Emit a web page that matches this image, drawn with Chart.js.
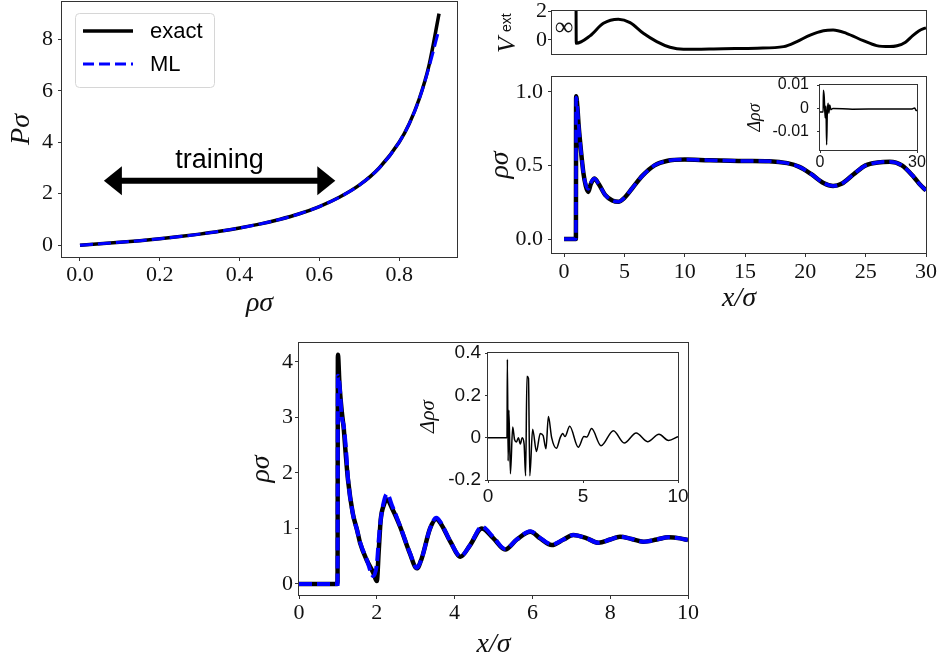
<!DOCTYPE html>
<html>
<head>
<meta charset="utf-8">
<script src="https://cdn.jsdelivr.net/npm/chart.js@4.4.1/dist/chart.umd.min.js"></script>
<style>
    body { margin: 0; background: #fff; }
    #fig { position: relative; width: 939px; height: 662px; overflow: hidden; background: #fff; }
    canvas { position: absolute; }
</style>
</head>
<body>
<div id="fig">
    <canvas id="pressure"></canvas>
    <canvas id="potential"></canvas>
    <canvas id="profile"></canvas>
    <canvas id="profile-diff"></canvas>
    <canvas id="wall"></canvas>
    <canvas id="wall-diff"></canvas>
</div>
<script>
// * Equation of state, external potential and density profiles (exact vs ML)

// pressure vs density
const pRho = [0, 0.05, 0.1, 0.15, 0.2, 0.25, 0.3, 0.35, 0.4, 0.45, 0.5, 0.55, 0.6, 0.65, 0.7, 0.75, 0.8, 0.825, 0.85, 0.875, 0.9]
const pExact = [0, 0.053, 0.111, 0.176, 0.25, 0.333, 0.429, 0.538, 0.667, 0.818, 1.0, 1.22, 1.5, 1.86, 2.33, 3.0, 4.0, 4.71, 5.67, 7.0, 9.0]
const pML = [0, 0.053, 0.111, 0.176, 0.25, 0.333, 0.429, 0.538, 0.667, 0.818, 1.0, 1.22, 1.5, 1.86, 2.33, 3.0, 4.0, 4.71, 5.66, 6.92, 8.4]
const trainingRange = [0.06, 0.64]
const trainingLevel = 2.5

// external potential
const vX = [0.99, 1.01, 2.15, 3.26, 4.5, 5.47, 6.57, 7.68, 8.78, 9.9, 13.2, 16, 18.2, 19.3, 20.4, 21.5, 22.3, 23.4, 24.8, 25.9, 27, 27.6, 28.3, 28.9, 29.4, 29.8, 30]
const vExt = [3, -0.23, 0.28, 1.15, 1.43, 1.2, 0.46, -0.11, -0.5, -0.64, -0.6, -0.57, -0.46, -0.11, 0.34, 0.64, 0.69, 0.46, -0.05, -0.39, -0.46, -0.4, -0.15, 0.3, 0.62, 0.78, 0.83]

// density profile in that potential
const cX = [0, 0.98, 1.0, 1.1, 1.2, 1.4, 1.6, 1.8, 2.0, 2.2, 2.5, 2.9, 3.4, 4.0, 4.5, 5.0, 5.7, 6.5, 7.5, 8.5, 10, 12, 15, 17, 18.5, 19.5, 20.5, 21.5, 22.3, 23, 24, 25, 26, 27, 28, 29, 29.5, 30]
const cExact = [0, 0, 0.97, 0.9, 0.78, 0.6, 0.45, 0.36, 0.32, 0.37, 0.41, 0.37, 0.3, 0.262, 0.253, 0.28, 0.35, 0.43, 0.5, 0.53, 0.54, 0.535, 0.53, 0.528, 0.515, 0.49, 0.44, 0.38, 0.36, 0.375, 0.44, 0.5, 0.52, 0.525, 0.5, 0.42, 0.37, 0.33]
const cML = [0, 0, 0.96, 0.9, 0.78, 0.6, 0.45, 0.37, 0.34, 0.38, 0.41, 0.37, 0.3, 0.262, 0.253, 0.28, 0.35, 0.43, 0.5, 0.53, 0.54, 0.535, 0.53, 0.528, 0.515, 0.49, 0.44, 0.38, 0.36, 0.375, 0.44, 0.5, 0.52, 0.525, 0.5, 0.42, 0.37, 0.33]
const cDiffX = [0, 0.98, 1.05, 1.3, 1.6, 1.85, 2.05, 2.25, 2.5, 2.75, 3.0, 3.4, 4, 10, 20, 28.5, 29.3, 29.7, 30]
const cDiff = [-0.0015, -0.0015, 0.0078, 0.005, -0.004, 0.001, -0.0155, -0.002, 0.0022, -0.002, 0.0015, -0.0005, 0, -0.0003, -0.0002, -0.0002, 0.0002, -0.0008, -0.0009]

// density at a hard wall
const dX = [0, 0.99, 1.0, 1.04, 1.1, 1.15, 1.2, 1.26, 1.38, 1.5, 1.57, 1.74, 1.91, 2.0, 2.05, 2.1, 2.18, 2.26, 2.4, 2.6, 2.85, 3.03, 3.15, 3.37, 3.53, 3.65, 3.9, 4.15, 4.4, 4.7, 5.0, 5.3, 5.6, 5.95, 6.2, 6.5, 6.8, 7.05, 7.4, 7.7, 8.0, 8.25, 8.55, 8.85, 9.2, 9.5, 9.8, 10]
const dExact = [0, 0, 4.13, 3.6, 3.1, 2.8, 2.35, 1.87, 1.28, 0.95, 0.74, 0.43, 0.2, 0.05, 0.6, 1.15, 1.42, 1.52, 1.35, 1.03, 0.55, 0.28, 0.45, 1.0, 1.17, 1.08, 0.75, 0.49, 0.7, 1.0, 0.82, 0.62, 0.8, 0.94, 0.82, 0.7, 0.8, 0.88, 0.82, 0.74, 0.8, 0.85, 0.81, 0.76, 0.8, 0.84, 0.82, 0.79]
const dML = [0, 0, 3.75, 3.6, 3.0, 2.85, 2.5, 1.9, 1.28, 0.95, 0.75, 0.44, 0.14, 0.35, 0.8, 1.15, 1.48, 1.62, 1.4, 1.04, 0.56, 0.29, 0.45, 1.0, 1.19, 1.1, 0.75, 0.5, 0.7, 1.03, 0.84, 0.63, 0.8, 0.95, 0.83, 0.71, 0.8, 0.88, 0.82, 0.74, 0.8, 0.85, 0.81, 0.76, 0.8, 0.84, 0.82, 0.79]
const dDiffX = [0, 1.0, 1.02, 1.06, 1.1, 1.18, 1.3, 1.4, 1.5, 1.6, 1.7, 1.8, 1.9, 1.98, 2.05, 2.13, 2.2, 2.35, 2.55, 2.75, 2.9, 3.05, 3.18, 3.35, 3.6, 3.8, 3.93, 4.05, 4.3, 4.75, 5.05, 5.2, 5.45, 5.95, 6.6, 7.17, 7.8, 8.4, 9.0, 9.5, 10]
const dDiff = [0, 0, 0.37, -0.11, 0.13, -0.17, 0.05, -0.01, -0.02, 0.0, -0.03, 0.0, -0.03, -0.18, 0.29, 0.28, -0.18, 0.04, -0.065, 0.02, 0.01, -0.052, 0.10, 0.0, -0.05, 0.0, 0.02, 0.005, 0.054, -0.045, 0.005, 0.003, 0.043, -0.038, 0.033, -0.025, 0.022, -0.019, 0.016, -0.013, 0.005]

// ticks
const pXTicks = [0, 0.2, 0.4, 0.6, 0.8]
const pXLabels = ['0.0', '0.2', '0.4', '0.6', '0.8']
const pYTicks = [0, 2, 4, 6, 8]
const pYLabels = ['0', '2', '4', '6', '8']
const vYTicks = [0, 2]
const vYLabels = ['0', '2']
const cXTicks = [0, 5, 10, 15, 20, 25, 30]
const cXLabels = ['0', '5', '10', '15', '20', '25', '30']
const cYTicks = [0, 0.5, 1.0]
const cYLabels = ['0.0', '0.5', '1.0']
const cDiffXTicks = [0, 30]
const cDiffXLabels = ['0', '30']
const cDiffYTicks = [-0.01, 0, 0.01]
const cDiffYLabels = ['-0.01', '0', '0.01']
const dXTicks = [0, 2, 4, 6, 8, 10]
const dXLabels = ['0', '2', '4', '6', '8', '10']
const dYTicks = [0, 1, 2, 3, 4]
const dYLabels = ['0', '1', '2', '3', '4']
const dDiffXTicks = [0, 5, 10]
const dDiffXLabels = ['0', '5', '10']
const dDiffYTicks = [-0.2, 0, 0.2, 0.4]
const dDiffYLabels = ['-0.2', '0', '0.2', '0.4']

const serif = '"Liberation Serif", "DejaVu Serif", serif'
const sans = '"Liberation Sans", Arial, sans-serif'
const frameColor = '#333'

// put a canvas so its chart area lands on the given page box
function place(id, area, yw, xh) {
    const pad = 20
    const c = document.getElementById(id)
    const w = yw + (area.r - area.l) + pad
    const h = pad + (area.b - area.t) + xh
    c.width = w
    c.height = h
    c.style.left = area.l - yw + 'px'
    c.style.top = area.t - pad + 'px'
    c.style.width = w + 'px'
    c.style.height = h + 'px'
    return c
}

function points(xs, ys) {
    return xs.map((x, i) => ({ x: x, y: ys[i] }))
}

function axis(o) {
    const hasTicks = o.ticks.length > 0
    return {
        type: 'linear',
        min: o.min,
        max: o.max,
        afterBuildTicks: (s) => { s.ticks = o.ticks.map((v) => ({ value: v })) },
        afterFit: (s) => {
            if (o.width !== undefined) s.width = o.width
            if (o.height !== undefined) s.height = o.height
        },
        grid: { display: hasTicks, drawOnChartArea: false, drawTicks: true, tickLength: o.tl || 4, color: frameColor, lineWidth: 1 },
        border: { display: false },
        ticks: {
            display: hasTicks,
            autoSkip: false,
            maxRotation: 0,
            color: '#111',
            padding: o.pad,
            font: { family: o.family || serif, size: o.size || 22, lineHeight: 1 },
            callback: (v, i) => o.labels[i]
        },
        title: o.title
            ? { display: true, text: o.title, color: '#111', padding: { top: o.tpad, bottom: o.tpad },
                font: { family: serif, style: 'italic', size: o.tsize || 28, lineHeight: 1 } }
            : { display: false }
    }
}

function line(data, color, width, dashed, order) {
    return {
        data: data,
        borderColor: color,
        borderWidth: width,
        borderDash: dashed ? [13, 5] : [],
        pointRadius: 0,
        fill: false,
        cubicInterpolationMode: 'monotone',
        order: order
    }
}

// white inset background and the box around every axes
const frame = {
    id: 'frame',
    beforeDraw(chart, args, opts) {
        if (!opts.fill) return
        const a = chart.chartArea
        chart.ctx.save()
        chart.ctx.fillStyle = '#fff'
        chart.ctx.fillRect(a.left, a.top, a.width, a.height)
        chart.ctx.restore()
    },
    afterDraw(chart) {
        const a = chart.chartArea
        const ctx = chart.ctx
        ctx.save()
        ctx.strokeStyle = frameColor
        ctx.lineWidth = 1
        ctx.strokeRect(a.left - 0.5, a.top - 0.5, a.width + 1, a.height + 1)
        ctx.restore()
    }
}

function baseOptions(scales, fill) {
    return {
        responsive: false,
        animation: false,
        events: [],
        layout: { padding: { top: 20, right: 20, left: 0, bottom: 0 } },
        scales: scales,
        plugins: { legend: { display: false }, tooltip: { enabled: false }, frame: { fill: fill } }
    }
}

// legend, arrow and "training" label
const pressureNotes = {
    id: 'pressureNotes',
    afterDraw(chart) {
        const ctx = chart.ctx
        const a = chart.chartArea
        const xs = chart.scales.x
        const ys = chart.scales.y
        ctx.save()

        // double arrow
        const yA = ys.getPixelForValue(trainingLevel)
        const x0 = xs.getPixelForValue(trainingRange[0])
        const x1 = xs.getPixelForValue(trainingRange[1])
        const head = 18
        ctx.fillStyle = '#000'
        ctx.strokeStyle = '#000'
        ctx.lineWidth = 6
        ctx.beginPath()
        ctx.moveTo(x0 + head - 1, yA)
        ctx.lineTo(x1 - head + 1, yA)
        ctx.stroke()
        ctx.beginPath()
        ctx.moveTo(x0, yA)
        ctx.lineTo(x0 + head, yA - 14.5)
        ctx.lineTo(x0 + head, yA + 14.5)
        ctx.closePath()
        ctx.fill()
        ctx.beginPath()
        ctx.moveTo(x1, yA)
        ctx.lineTo(x1 - head, yA - 14.5)
        ctx.lineTo(x1 - head, yA + 14.5)
        ctx.closePath()
        ctx.fill()

        ctx.font = '27px ' + sans
        ctx.textAlign = 'center'
        ctx.textBaseline = 'alphabetic'
        ctx.fillText('training', (x0 + x1) / 2, yA - 13)

        // legend box
        const lx = a.left + 13
        const ly = a.top + 11
        ctx.beginPath()
        ctx.roundRect(lx + 0.5, ly + 0.5, 139, 74, 4)
        ctx.fillStyle = 'rgba(255,255,255,0.85)'
        ctx.fill()
        ctx.strokeStyle = '#d6d6d6'
        ctx.lineWidth = 1
        ctx.stroke()

        ctx.lineWidth = 3.5
        ctx.strokeStyle = '#000'
        ctx.beginPath()
        ctx.moveTo(lx + 8, ly + 18)
        ctx.lineTo(lx + 58, ly + 18)
        ctx.stroke()
        ctx.lineWidth = 3
        ctx.strokeStyle = '#0000ff'
        ctx.setLineDash([11, 5])
        ctx.beginPath()
        ctx.moveTo(lx + 8, ly + 51)
        ctx.lineTo(lx + 58, ly + 51)
        ctx.stroke()
        ctx.setLineDash([])

        ctx.fillStyle = '#000'
        ctx.font = '22px ' + sans
        ctx.textAlign = 'left'
        ctx.textBaseline = 'middle'
        ctx.fillText('exact', lx + 75, ly + 19)
        ctx.fillText('ML', lx + 75, ly + 52)
        ctx.restore()
    }
}

// V^ext label and the infinity mark at the hard wall
const potentialNotes = {
    id: 'potentialNotes',
    afterDraw(chart) {
        const ctx = chart.ctx
        const a = chart.chartArea
        ctx.save()
        ctx.fillStyle = '#111'
        ctx.translate(a.left - 37, a.bottom - 1)
        ctx.rotate(-Math.PI / 2)
        ctx.textBaseline = 'alphabetic'
        ctx.textAlign = 'left'
        ctx.font = 'italic 26px ' + serif
        ctx.fillText('V', 0, 0)
        ctx.font = '14px ' + sans
        ctx.fillText('ext', 21, -4)
        ctx.restore()

        ctx.save()
        ctx.fillStyle = '#111'
        ctx.font = '26px ' + serif
        ctx.textAlign = 'center'
        ctx.textBaseline = 'middle'
        ctx.fillText('\u221e', chart.scales.x.getPixelForValue(0), chart.scales.y.getPixelForValue(0.83))
        ctx.restore()
    }
}

// top left: equation of state
new Chart(place('pressure', { l: 62, t: 2, r: 457, b: 257 }, 62, 64), {
    type: 'line',
    data: {
        datasets: [
            line(points(pRho, pExact), '#000', 3.5, false, 2),
            line(points(pRho, pML), '#0000ff', 3, true, 1)
        ]
    },
    options: baseOptions({
        x: axis({ min: -0.045, max: 0.945, ticks: pXTicks, labels: pXLabels, pad: 3, height: 64, title: '\u03c1\u03c3', tpad: 3 }),
        y: axis({ min: -0.46, max: 9.45, ticks: pYTicks, labels: pYLabels, pad: 5, width: 62, title: 'P\u03c3', tpad: 8 })
    }, false),
    plugins: [frame, pressureNotes]
})

// top right, upper: external potential
new Chart(place('potential', { l: 552, t: 11, r: 926, b: 54 }, 72, 20), {
    type: 'line',
    data: { datasets: [line(points(vX, vExt), '#000', 3, false, 1)] },
    options: baseOptions({
        x: axis({ min: -1, max: 30, ticks: [], labels: [], pad: 0, height: 20 }),
        y: axis({ min: -0.97, max: 2, ticks: vYTicks, labels: vYLabels, pad: 1, width: 72 })
    }, false),
    plugins: [frame, potentialNotes]
})

// top right, lower: density in the potential
new Chart(place('profile', { l: 552, t: 77, r: 926, b: 253 }, 72, 63), {
    type: 'line',
    data: {
        datasets: [
            line(points(cX, cExact), '#000', 4.5, false, 2),
            line(points(cX, cML), '#0000ff', 3.5, true, 1)
        ]
    },
    options: baseOptions({
        x: axis({ min: -1, max: 30, ticks: cXTicks, labels: cXLabels, pad: 4, height: 63, title: 'x/\u03c3', tpad: 3 }),
        y: axis({ min: -0.095, max: 1.10, ticks: cYTicks, labels: cYLabels, pad: 5, width: 72, title: '\u03c1\u03c3', tpad: 7 })
    }, false),
    plugins: [frame]
})

new Chart(place('profile-diff', { l: 820, t: 85, r: 917, b: 150 }, 80, 30), {
    type: 'line',
    data: { datasets: [line(points(cDiffX, cDiff), '#000', 1.5, false, 1)] },
    options: baseOptions({
        x: axis({ min: 0, max: 30, ticks: cDiffXTicks, labels: cDiffXLabels, family: sans, size: 16, tl: 3, pad: 2, height: 30 }),
        y: axis({ min: -0.0177, max: 0.01, ticks: cDiffYTicks, labels: cDiffYLabels, family: sans, size: 16, tl: 3, pad: 8, width: 80,
            title: '\u0394\u03c1\u03c3', tsize: 18, tpad: 6 })
    }, true),
    plugins: [frame]
})

// bottom: density at a hard wall
new Chart(place('wall', { l: 299, t: 343, r: 688, b: 595 }, 59, 67), {
    type: 'line',
    data: {
        datasets: [
            line(points(dX, dExact), '#000', 4.5, false, 2),
            line(points(dX, dML), '#0000ff', 4, true, 1)
        ]
    },
    options: baseOptions({
        x: axis({ min: 0, max: 10, ticks: dXTicks, labels: dXLabels, pad: 3, height: 67, title: 'x/\u03c3', tpad: 3 }),
        y: axis({ min: -0.2, max: 4.34, ticks: dYTicks, labels: dYLabels, pad: 2, width: 59, title: '\u03c1\u03c3', tpad: 8 })
    }, false),
    plugins: [frame]
})

new Chart(place('wall-diff', { l: 488, t: 353, r: 678, b: 480 }, 78, 35), {
    type: 'line',
    data: { datasets: [line(points(dDiffX, dDiff), '#000', 1.5, false, 1)] },
    options: baseOptions({
        x: axis({ min: 0, max: 10, ticks: dDiffXTicks, labels: dDiffXLabels, family: sans, size: 19, tl: 3, pad: 4.5, height: 35 }),
        y: axis({ min: -0.2, max: 0.4, ticks: dDiffYTicks, labels: dDiffYLabels, family: sans, size: 19, tl: 3, pad: 4, width: 78,
            title: '\u0394\u03c1\u03c3', tsize: 21, tpad: 8 })
    }, true),
    plugins: [frame]
})
</script>
</body>
</html>
